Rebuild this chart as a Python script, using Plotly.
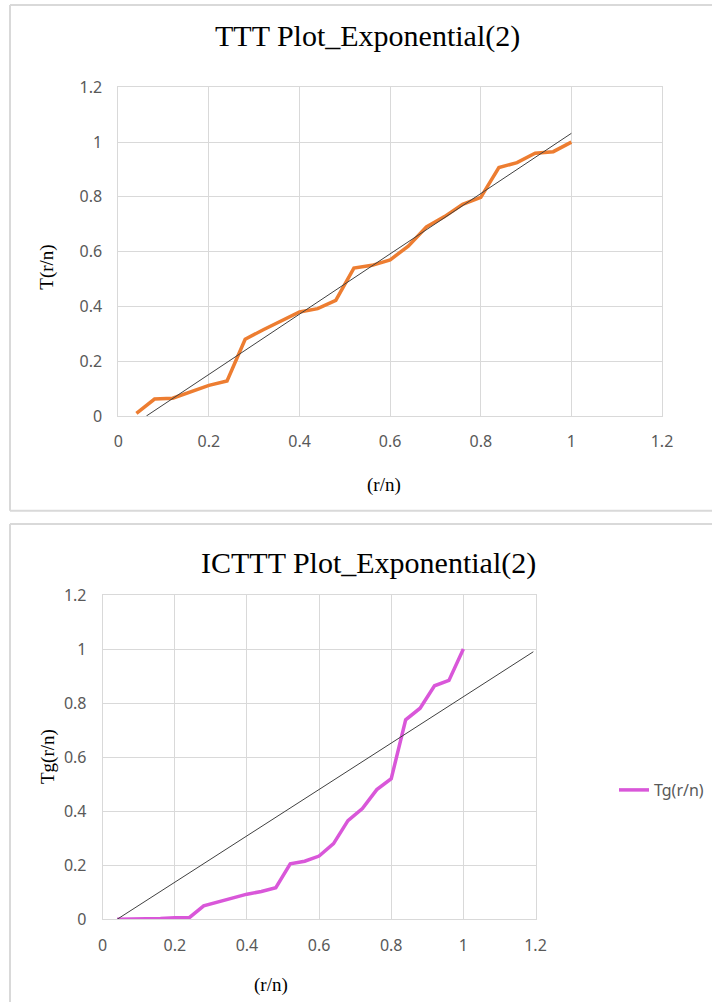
import plotly.graph_objects as go

# ---------------- data ----------------
ttt_x = [0.04, 0.08, 0.12, 0.16, 0.20, 0.24, 0.28, 0.32, 0.36, 0.40, 0.44, 0.48, 0.52,
         0.56, 0.60, 0.64, 0.68, 0.72, 0.76, 0.80, 0.84, 0.88, 0.92, 0.96, 1.00]
ttt_y = [0.01, 0.062, 0.065, 0.088, 0.112, 0.128, 0.28, 0.315, 0.347, 0.38, 0.392, 0.422, 0.54,
         0.55, 0.57, 0.62, 0.69, 0.728, 0.773, 0.798, 0.907, 0.925, 0.959, 0.965, 1.00]
ttt_trend_x = [0.062, 1.0]
ttt_trend_y = [0.0, 1.032]

ict_x = ttt_x
ict_y = [0.0, 0.0, 0.0, 0.003, 0.006, 0.006, 0.05, 0.065, 0.08, 0.093, 0.103, 0.117, 0.205,
         0.215, 0.234, 0.28, 0.365, 0.41, 0.48, 0.52, 0.738, 0.781, 0.864, 0.884, 1.00]
ict_trend_x = [0.04, 1.194]
ict_trend_y = [0.0, 0.99]

tick_vals = [0, 0.2, 0.4, 0.6, 0.8, 1.0, 1.2]
tick_text = ["0", "0.2", "0.4", "0.6", "0.8", "1", "1.2"]

W, H = 712, 1002


def px(x):
    return x / W


def py(y):
    return 1 - y / H


fig = go.Figure()

fig.add_trace(go.Scatter(x=ttt_x, y=ttt_y, mode="lines", name="T(r/n)",
                         line=dict(color="#ED7D31", width=3.5), showlegend=False,
                         xaxis="x", yaxis="y"))
fig.add_trace(go.Scatter(x=ttt_trend_x, y=ttt_trend_y, mode="lines", name="trend",
                         line=dict(color="#404040", width=1), showlegend=False,
                         xaxis="x", yaxis="y"))
fig.add_trace(go.Scatter(x=ict_x, y=ict_y, mode="lines", name="Tg(r/n)",
                         line=dict(color="#D957D9", width=3.5), showlegend=True,
                         xaxis="x2", yaxis="y2"))
fig.add_trace(go.Scatter(x=ict_trend_x, y=ict_trend_y, mode="lines", name="trend2",
                         line=dict(color="#404040", width=1), showlegend=False,
                         xaxis="x2", yaxis="y2"))

tickfont = dict(family="Noto Sans", size=16, color="#595959")
axis_common = dict(range=[0, 1.2], tickmode="array", tickvals=tick_vals, ticktext=tick_text,
                   showgrid=True, gridcolor="#D9D9D9", gridwidth=1, zeroline=False,
                   showline=True, linecolor="#D9D9D9", linewidth=1, mirror=True,
                   ticks="", tickfont=tickfont, fixedrange=True, automargin=False)

fig.update_layout(
    template="none",
    width=W, height=H, autosize=False,
    margin=dict(l=0, r=0, t=0, b=0, pad=0, autoexpand=False),
    paper_bgcolor="white", plot_bgcolor="white",
    xaxis=dict(domain=[px(118.3), px(662)], anchor="y", ticklabelstandoff=11, **axis_common),
    yaxis=dict(domain=[py(416), py(87.3)], anchor="x", ticklabelstandoff=12, **axis_common),
    xaxis2=dict(domain=[px(102.7), px(535.5)], anchor="y2", ticklabelstandoff=11, **axis_common),
    yaxis2=dict(domain=[py(919.3), py(595)], anchor="x2", ticklabelstandoff=12, **axis_common),
    legend=dict(x=px(614), y=py(790), xanchor="left", yanchor="middle",
                font=dict(family="Noto Sans", size=16, color="#595959"),
                bgcolor="rgba(0,0,0,0)", borderwidth=0),
    showlegend=True,
)

serif = "Liberation Serif"
annotations = [
    dict(text="TTT Plot_Exponential(2)", x=px(367), y=py(36), font=dict(family=serif, size=30, color="#000000")),
    dict(text="ICTTT Plot_Exponential(2)", x=px(368), y=py(563), font=dict(family=serif, size=30, color="#000000")),
    dict(text="T(r/n)", x=px(46.7), y=py(267), textangle=-90, font=dict(family=serif, size=19, color="#000000")),
    dict(text="Tg(r/n)", x=px(48), y=py(757), textangle=-90, font=dict(family=serif, size=19, color="#000000")),
    dict(text="(r/n)", x=px(384), y=py(485), font=dict(family=serif, size=19, color="#000000")),
    dict(text="(r/n)", x=px(271), y=py(985), font=dict(family=serif, size=19, color="#000000")),
]
for a in annotations:
    a.update(xref="paper", yref="paper", showarrow=False, xanchor="center", yanchor="middle")
fig.update_layout(annotations=annotations)

border = dict(color="#D9D9D9", width=2)
shapes = [
    # top panel
    dict(type="line", x0=px(10), x1=px(712), y0=py(5), y1=py(5), line=border),
    dict(type="line", x0=px(10), x1=px(10), y0=py(5), y1=py(510.7), line=border),
    dict(type="line", x0=px(10), x1=px(712), y0=py(510.7), y1=py(510.7), line=border),
    # bottom panel
    dict(type="line", x0=px(10), x1=px(712), y0=py(524), y1=py(524), line=border),
    dict(type="line", x0=px(10), x1=px(10), y0=py(524), y1=py(1002), line=border),
]
for s in shapes:
    s.update(xref="paper", yref="paper", layer="below")
fig.update_layout(shapes=shapes)

post = (
    "document.documentElement.style.margin='0';"
    "document.body.style.margin='0';"
)

fig.write_html("out.html", config={"displayModeBar": False},
               post_script=post)
